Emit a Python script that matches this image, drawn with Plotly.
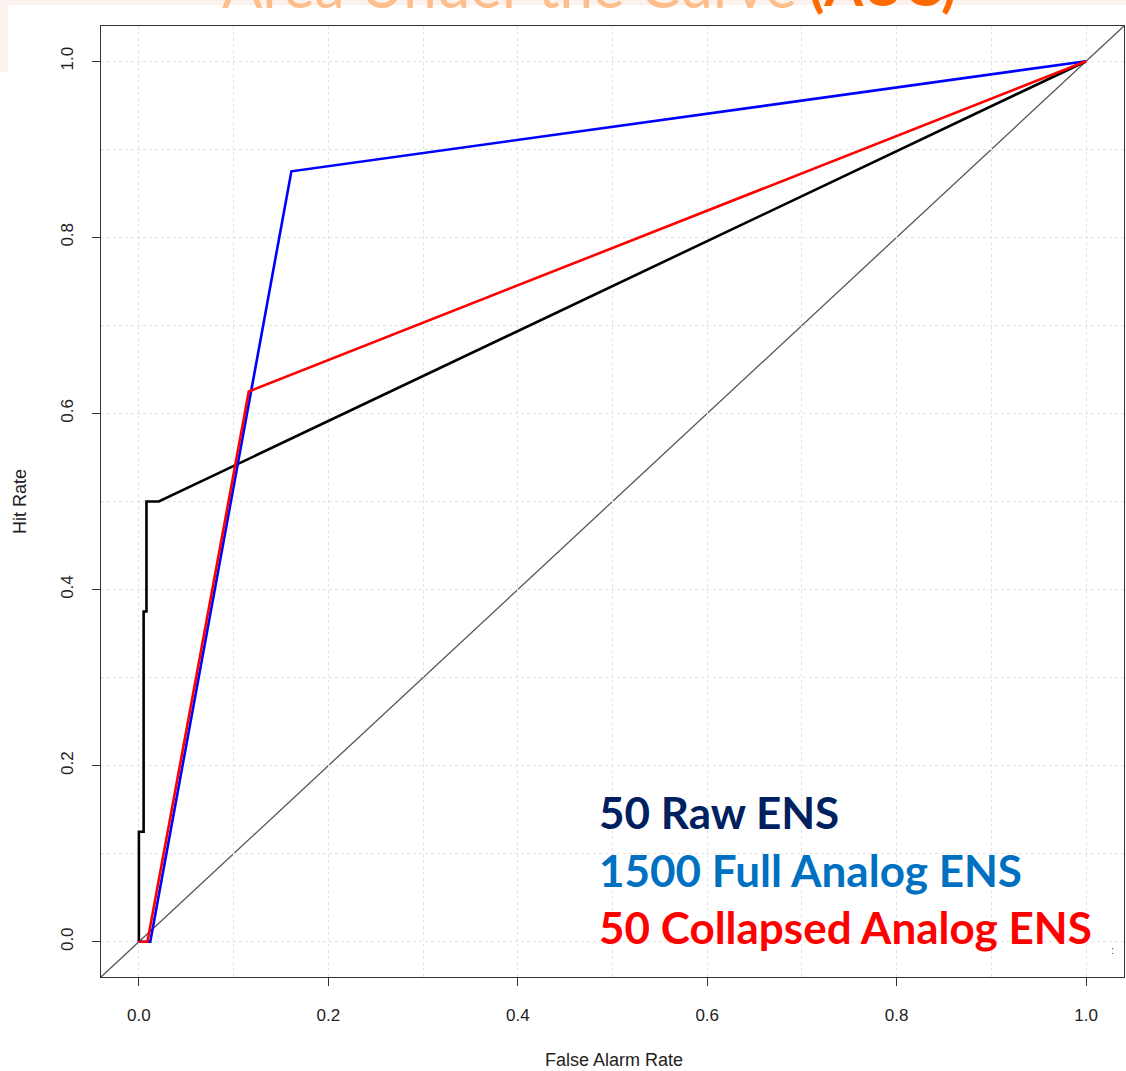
import plotly.graph_objects as go

# ROC curves: false alarm rate vs hit rate for three ensembles
raw_far = [0.0, 0.0, 0.005, 0.005, 0.008, 0.008, 0.021, 1.0]
raw_hit = [0.0, 0.125, 0.125, 0.375, 0.375, 0.5, 0.5, 1.0]

full_far = [0.0, 0.012, 0.161, 1.0]
full_hit = [0.0, 0.0, 0.875, 1.0]

coll_far = [0.0, 0.009, 0.116, 1.0]
coll_hit = [0.0, 0.0, 0.625, 1.0]

tick_vals = [0.0, 0.2, 0.4, 0.6, 0.8, 1.0]
tick_text = ["0.0", "0.2", "0.4", "0.6", "0.8", "1.0"]

legend_labels = ["50 Raw ENS", "1500 Full Analog ENS", "50 Collapsed Analog ENS"]
legend_colors = ["#002060", "#0070C0", "#FF0000"]

W, H = 1126, 1071
ML, MR, MT, MB = 101, 2, 26, 94
PW, PH = W - ML - MR, H - MT - MB


def px_x(px):
    return (px - ML) / PW


def px_y(py):
    return (H - MB - py) / PH


fig = go.Figure()

fig.add_trace(go.Scatter(x=raw_far, y=raw_hit, mode="lines",
                         line=dict(color="#000000", width=2.6), showlegend=False))
fig.add_trace(go.Scatter(x=full_far, y=full_hit, mode="lines",
                         line=dict(color="#0000FF", width=2.6), showlegend=False))
fig.add_trace(go.Scatter(x=coll_far, y=coll_hit, mode="lines",
                         line=dict(color="#FF0000", width=2.6), showlegend=False))

# no-skill diagonal across the whole panel
fig.add_shape(type="line", xref="x domain", yref="y domain",
              x0=0, y0=0, x1=1, y1=1,
              line=dict(color="#555555", width=1.3), layer="below")

# slide background strips
fig.add_shape(type="rect", xref="paper", yref="paper",
              x0=px_x(0), x1=px_x(W), y0=px_y(5), y1=px_y(0),
              fillcolor="#FBF2EE", line=dict(width=0), layer="below")
fig.add_shape(type="rect", xref="paper", yref="paper",
              x0=px_x(0), x1=px_x(8), y0=px_y(72), y1=px_y(0),
              fillcolor="#FBF2EE", line=dict(width=0), layer="below")

axis_common = dict(
    range=[-0.04, 1.04],
    tickvals=tick_vals,
    ticktext=tick_text,
    ticks="outside",
    ticklen=8,
    tickwidth=1,
    tickcolor="#333333",
    showline=True,
    linecolor="#333333",
    linewidth=1.3,
    mirror=True,
    showgrid=True,
    gridcolor="#e3e3e3",
    griddash="dot",
    gridwidth=1,
    zeroline=False,
    minor=dict(dtick=0.1, tick0=0, showgrid=True, gridcolor="#e3e3e3",
               griddash="dot", gridwidth=1),
    tickfont=dict(family="Liberation Sans, Arial, sans-serif", size=17, color="#222222"),
)

fig.update_xaxes(**axis_common, ticklabelstandoff=14)
fig.update_yaxes(**axis_common, tickangle=-90, ticklabelstandoff=12)

annotations = []

# axis titles
annotations.append(dict(text="False Alarm Rate", xref="paper", yref="paper",
                        x=px_x(614), y=px_y(1060), xanchor="center", yanchor="middle",
                        showarrow=False,
                        font=dict(family="Liberation Sans, Arial, sans-serif", size=18, color="#222222")))
annotations.append(dict(text="Hit Rate", xref="paper", yref="paper",
                        x=px_x(20), y=px_y(502), xanchor="center", yanchor="middle",
                        textangle=-90, showarrow=False,
                        font=dict(family="Liberation Sans, Arial, sans-serif", size=18, color="#222222")))

# series labels
label_centers = [812, 870, 927]
for txt, col, cy in zip(legend_labels, legend_colors, label_centers):
    annotations.append(dict(text=f"<b>{txt}</b>", xref="paper", yref="paper",
                            x=px_x(597), y=px_y(cy), xanchor="left", yanchor="middle",
                            showarrow=False,
                            font=dict(family="Lato, Open Sans, sans-serif", size=44, color=col)))

# small stray mark at the right edge
annotations.append(dict(text=":", xref="paper", yref="paper",
                        x=px_x(1112), y=px_y(950), xanchor="center", yanchor="middle",
                        showarrow=False,
                        font=dict(family="Liberation Sans, Arial, sans-serif", size=11, color="#333333")))

# slide title, mostly above the visible page
annotations.append(dict(text="Area Under the Curve", xref="paper", yref="paper",
                        x=px_x(220), y=px_y(23), xanchor="left", yanchor="bottom",
                        showarrow=False,
                        font=dict(family="Lato, Open Sans, sans-serif", size=60, color="#FDBE8C")))
annotations.append(dict(text="<b>(AUC)</b>", xref="paper", yref="paper",
                        x=px_x(958), y=px_y(20), xanchor="right", yanchor="bottom",
                        showarrow=False,
                        font=dict(family="Lato, Open Sans, sans-serif", size=56, color="#FF6A00")))

fig.update_layout(
    width=W, height=H,
    margin=dict(l=ML, r=MR, t=MT, b=MB),
    paper_bgcolor="#FFFFFF",
    plot_bgcolor="#FFFFFF",
    annotations=annotations,
    showlegend=False,
)

fig.write_html("out.html")
